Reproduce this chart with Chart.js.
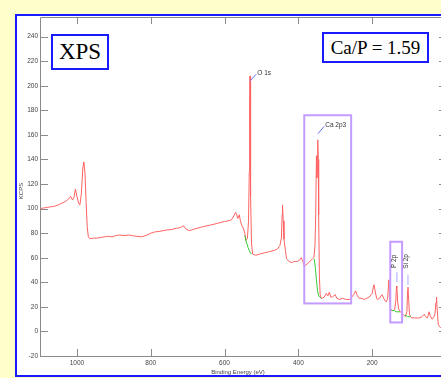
<!DOCTYPE html>
<html>
<head>
<meta charset="utf-8">
<script src="https://cdn.jsdelivr.net/npm/chart.js@4.4.1/dist/chart.umd.min.js"></script>
<style>
    html, body { margin: 0; padding: 0; width: 441px; height: 378px; overflow: hidden; background: #ffffcc; }
    #panel { position: absolute; left: 15px; top: 14px; width: 470px; height: 359px; background: #fff; border: 2px solid #1a1aff; }
    #chart { position: absolute; left: 0; top: 0; }
    .tag { position: absolute; box-sizing: border-box; border: 2px solid #1a1aff; background: #fff;
           font-family: "Liberation Serif", "DejaVu Serif", serif; color: #000; text-align: center; }
    #xpsTag { left: 51px; top: 34px; width: 58px; height: 36px; font-size: 23px; line-height: 32px; }
    #ratioTag { left: 322px; top: 32px; width: 107px; height: 31px; font-size: 19px; line-height: 27px; }
</style>
</head>
<body>
<div id="panel"></div>
<canvas id="chart" width="460" height="378"></canvas>
<div class="tag" id="xpsTag">XPS</div>
<div class="tag" id="ratioTag">Ca/P = 1.59</div>
<script>
// survey spectrum (binding energy in eV, counts in KCPS)
const energy = [1100, 1090, 1080, 1070, 1060, 1050, 1040, 1030, 1022, 1017, 1012, 1008, 1004, 1000, 995, 992, 988, 984, 981, 978,
    975, 972, 969, 965, 955, 945, 935, 925, 915, 905, 895, 885, 870, 860, 850, 840, 824, 810, 800, 789,
    775, 760, 743, 730, 720, 711, 705, 695, 680, 662, 640, 619, 600, 590, 581, 575, 570, 568, 564, 560,
    557, 553, 549, 545, 542, 538, 535, 533, 532, 531, 530, 529, 527, 524, 515, 505, 492, 478, 465, 457,
    450, 446, 444, 443, 441, 439, 435, 432, 425, 419, 410, 403, 397, 392, 388, 384, 380, 376, 369, 362,
    358, 355, 353, 351, 350, 349, 348, 347, 346, 345, 343, 341, 338, 335, 330, 324, 320, 316, 312, 308,
    304, 300, 296, 289, 280, 270, 262, 255, 250, 245, 240, 235, 228, 222, 215, 208, 200, 197, 195, 192,
    188, 186, 180, 176, 173, 169, 165, 162, 158, 155, 153, 150, 147, 143, 139, 136, 134, 133, 131, 128,
    124, 120, 116, 113, 110, 106, 104, 103, 101, 99, 96, 92, 85, 78, 72, 65, 59, 55, 51, 48,
    46, 43, 38, 34, 30, 27, 26, 25, 23, 21, 18, 14];
const counts = [100, 100.5, 101, 101.5, 102, 103, 104.5, 106, 108, 110, 107, 109, 116, 110, 104, 103, 112, 133, 138, 128,
    105, 85, 77, 75.5, 76, 76, 76.5, 77, 77.5, 77, 78, 78.5, 78, 78.5, 78, 77.5, 77, 78.5, 80, 81,
    81.5, 82.5, 83, 84, 84.5, 86, 83.5, 82, 83.5, 85, 86.5, 88, 89.5, 90, 91, 94, 97, 96, 92, 95,
    90, 86, 84, 80, 74, 76, 90, 130, 185, 208, 175, 110, 72, 63, 62, 63, 64, 65, 66, 67,
    70, 76, 95, 103, 90, 75, 66, 59, 57, 56, 57, 57, 58, 60, 57, 53, 54, 55, 57, 59,
    60, 70, 95, 143, 125, 130, 145, 156, 140, 95, 45, 30, 27, 27, 28, 31, 29, 32, 28, 28,
    29, 30, 27, 26, 27, 26, 26, 28, 30, 33, 29, 27, 27, 26, 27, 28, 31, 36, 38, 33,
    27, 26, 27, 29, 30, 27, 25, 24, 27, 42, 30, 18, 17, 17, 18, 25, 37, 36, 24, 18,
    16, 15, 14, 13, 12, 16, 33, 36, 25, 14, 12, 11, 11, 11, 11, 12, 14, 12, 11, 13,
    16, 13, 10, 11, 14, 24, 28, 26, 14, 6, 4, 3];

// background lines under the fitted peaks
const bgO = [[545, 78], [542, 74], [539, 71], [536, 68], [533, 66], [530, 64], [527, 63]];
const bgCa = [[357, 59], [354, 52], [351, 42], [348, 33], [345, 29], [342, 28], [338, 27]];
const bgP = [[150, 18], [145, 17], [140, 17], [135, 16], [130, 16], [125, 16]];
const bgSi = [[112, 13], [108, 13], [104, 12], [100, 12], [96, 12]];

const xTicks = [1000, 800, 600, 400, 200];
const yTicks = [-20, 0, 20, 40, 60, 80, 100, 120, 140, 160, 180, 200, 220, 240];

// peak labels: [label, peak eV, peak KCPS, label eV, label KCPS]
const leaderLabels = [['O 1s', 531, 204, 514, 209.5], ['Ca 2p3', 347, 161, 330, 167]];
const sideLabels = [['P 2p', 133, 40, 140, 57], ['Si 2p', 103, 38, 108, 57]];
// region boxes [eV from, eV to, KCPS low, KCPS high]
const regionBoxes = [[384, 257, 22.8, 176], [151, 119, 7.3, 73]];

const toPoints = (xs, ys) => xs.map((x, i) => ({ x: x, y: ys[i] }));
const pairs = arr => arr.map(p => ({ x: p[0], y: p[1] }));

const lineStyle = { showLine: true, pointRadius: 0, borderWidth: 1, tension: 0 };
const tickFont = { family: '"Liberation Sans", Arial, sans-serif', size: 6.5 };

const decorPlugin = {
    id: 'decor',
    afterDatasetsDraw(chart) {
        const ctx = chart.ctx;
        const xs = chart.scales.x;
        const ys = chart.scales.y;
        const a = chart.chartArea;
        ctx.save();

        // frame and inward ticks
        ctx.strokeStyle = '#8a8a8a';
        ctx.lineWidth = 1;
        ctx.beginPath();
        ctx.moveTo(a.left + 0.5, a.bottom + 0.5);
        ctx.lineTo(a.left + 0.5, a.top + 0.5);
        ctx.lineTo(a.right + 0.5, a.top + 0.5);
        ctx.lineTo(a.right + 0.5, a.bottom + 0.5);
        ctx.lineTo(a.left + 0.5, a.bottom + 0.5);
        xTicks.forEach(v => {
            const px = Math.round(xs.getPixelForValue(v)) + 0.5;
            ctx.moveTo(px, a.bottom); ctx.lineTo(px, a.bottom - 7);
            ctx.moveTo(px, a.top); ctx.lineTo(px, a.top + 7);
        });
        yTicks.forEach(v => {
            const py = Math.round(ys.getPixelForValue(v)) + 0.5;
            ctx.moveTo(a.left, py); ctx.lineTo(a.left + 8, py);
            ctx.moveTo(a.right, py); ctx.lineTo(a.right - 7, py);
        });
        ctx.stroke();

        // purple region boxes
        ctx.strokeStyle = '#c49cff';
        ctx.lineWidth = 2;
        regionBoxes.forEach(b => {
            const x1 = xs.getPixelForValue(b[0]);
            const x2 = xs.getPixelForValue(b[1]);
            const y1 = ys.getPixelForValue(b[3]);
            const y2 = ys.getPixelForValue(b[2]);
            ctx.strokeRect(x1, y1, x2 - x1, y2 - y1);
        });

        ctx.font = '6.5px "Liberation Sans", Arial, sans-serif';
        ctx.fillStyle = '#333';
        ctx.textBaseline = 'middle';

        // leader line labels
        ctx.strokeStyle = '#6b6bff';
        ctx.lineWidth = 1;
        leaderLabels.forEach(l => {
            const px = xs.getPixelForValue(l[1]);
            const py = ys.getPixelForValue(l[2]);
            const tx = xs.getPixelForValue(l[3]);
            const ty = ys.getPixelForValue(l[4]);
            ctx.beginPath();
            ctx.moveTo(px, py);
            ctx.lineTo(tx, ty);
            ctx.stroke();
            ctx.textAlign = 'left';
            ctx.fillText(l[0], tx + 1, ty - 1);
        });

        // rotated labels with short marker
        ctx.strokeStyle = '#a8a8ff';
        sideLabels.forEach(l => {
            const px = xs.getPixelForValue(l[1]);
            const py = ys.getPixelForValue(l[2]);
            ctx.beginPath();
            ctx.moveTo(px, py);
            ctx.lineTo(px, py - 10);
            ctx.stroke();
            ctx.save();
            ctx.translate(xs.getPixelForValue(l[3]), ys.getPixelForValue(l[4]));
            ctx.rotate(-Math.PI / 2);
            ctx.textAlign = 'center';
            ctx.fillText(l[0], 0, 0);
            ctx.restore();
        });

        // axis titles
        ctx.font = '6px "Liberation Sans", Arial, sans-serif';
        ctx.fillStyle = '#444';
        ctx.textAlign = 'center';
        ctx.fillText('Binding Energy (eV)', 238, 372);
        ctx.save();
        ctx.translate(21, 191);
        ctx.rotate(-Math.PI / 2);
        ctx.fillText('KCPS', 0, 0);
        ctx.restore();

        ctx.restore();
    }
};

new Chart(document.getElementById('chart'), {
    type: 'scatter',
    data: {
        datasets: [
            Object.assign({ data: pairs(bgO), borderColor: '#33cc33' }, lineStyle),
            Object.assign({ data: pairs(bgCa), borderColor: '#33cc33' }, lineStyle),
            Object.assign({ data: pairs(bgP), borderColor: '#33cc33' }, lineStyle),
            Object.assign({ data: pairs(bgSi), borderColor: '#33cc33' }, lineStyle),
            Object.assign({ data: toPoints(energy, counts), borderColor: '#ff6262' }, lineStyle)
        ]
    },
    options: {
        responsive: false,
        animation: false,
        layout: { padding: { top: 17, right: 14, left: 0, bottom: 0 } },
        plugins: { legend: { display: false }, tooltip: { enabled: false } },
        scales: {
            x: {
                type: 'linear',
                reverse: true,
                min: 0,
                max: 1100,
                grid: { display: false, drawTicks: false },
                border: { display: false },
                ticks: { padding: 3, color: '#444', font: tickFont, callback: v => String(v) },
                afterBuildTicks: scale => { scale.ticks = xTicks.map(v => ({ value: v })); },
                afterFit: scale => { scale.height = 22; }
            },
            y: {
                min: -20,
                max: 256,
                grid: { display: false, drawTicks: false },
                border: { display: false },
                ticks: { padding: 2, color: '#444', font: tickFont, callback: v => String(v) },
                afterBuildTicks: scale => { scale.ticks = yTicks.map(v => ({ value: v })); },
                afterFit: scale => { scale.width = 40; }
            }
        }
    },
    plugins: [decorPlugin]
});
</script>
</body>
</html>
